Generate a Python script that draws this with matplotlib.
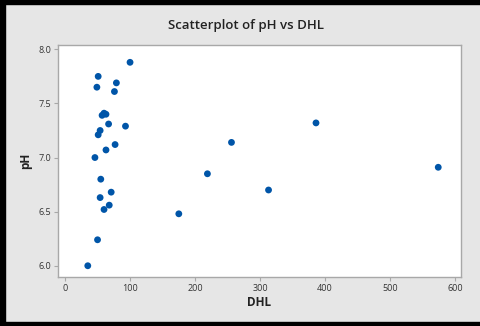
import matplotlib
matplotlib.use('Agg')
import matplotlib.pyplot as plt
from matplotlib.patches import Rectangle

# DHL vs pH readings
dhl = [100, 51, 49, 79, 76, 57, 60, 63, 67, 93, 54, 51, 77, 63, 46,
       55, 71, 54, 68, 60, 175, 50, 35, 219, 256, 313, 386, 574]
ph = [7.88, 7.75, 7.65, 7.69, 7.61, 7.39, 7.41, 7.40, 7.31, 7.29, 7.25, 7.21, 7.12, 7.07, 7.00,
      6.80, 6.68, 6.63, 6.56, 6.52, 6.48, 6.24, 6.00, 6.85, 7.14, 6.70, 7.32, 6.91]

xticks = [0, 100, 200, 300, 400, 500, 600]
yticks = [6.0, 6.5, 7.0, 7.5, 8.0]

plt.rcParams['font.family'] = ['Open Sans', 'DejaVu Sans']

fig = plt.figure(figsize=(4.81, 3.26), dpi=100)
fig.patch.set_facecolor('#e6e6e6')

# dark window frame
fig.patches.append(Rectangle((0, 1 - 4/326), 1, 4/326, transform=fig.transFigure, color='black', zorder=0))
fig.patches.append(Rectangle((0, 0), 5/481, 1, transform=fig.transFigure, color='black', zorder=0))
fig.patches.append(Rectangle((0, 0), 1, 4/326, transform=fig.transFigure, color='black', zorder=0))

ax = fig.add_axes([58/481, 1 - 277/326, (461 - 58)/481, (277 - 45)/326])
ax.set_facecolor('white')
ax.scatter(dhl, ph, s=24, color='#0055a8', edgecolors='none', zorder=3)

ax.set_xlim(-10.8, 609)
ax.set_ylim(5.896, 8.04)
ax.set_xticks(xticks)
ax.set_yticks(yticks)
ax.set_yticklabels(['%.1f' % v for v in yticks])

for s in ax.spines.values():
    s.set_color('#a8a8a8')
    s.set_linewidth(1.0)
ax.tick_params(length=3, width=0.8, color='#a8a8a8', labelsize=6.5, labelcolor='#333333', pad=2)

ax.set_xlabel('DHL', fontsize=8.5, fontweight='bold', color='#222222', labelpad=2)
ax.set_ylabel('pH', fontsize=8.5, fontweight='bold', color='#222222', labelpad=4)
fig.text(246/481, 1 - 25/326, 'Scatterplot of pH vs DHL', ha='center', va='center',
         fontsize=9.5, fontweight='semibold', color='#222222')

fig.savefig('out.png', dpi=100, facecolor=fig.get_facecolor())
